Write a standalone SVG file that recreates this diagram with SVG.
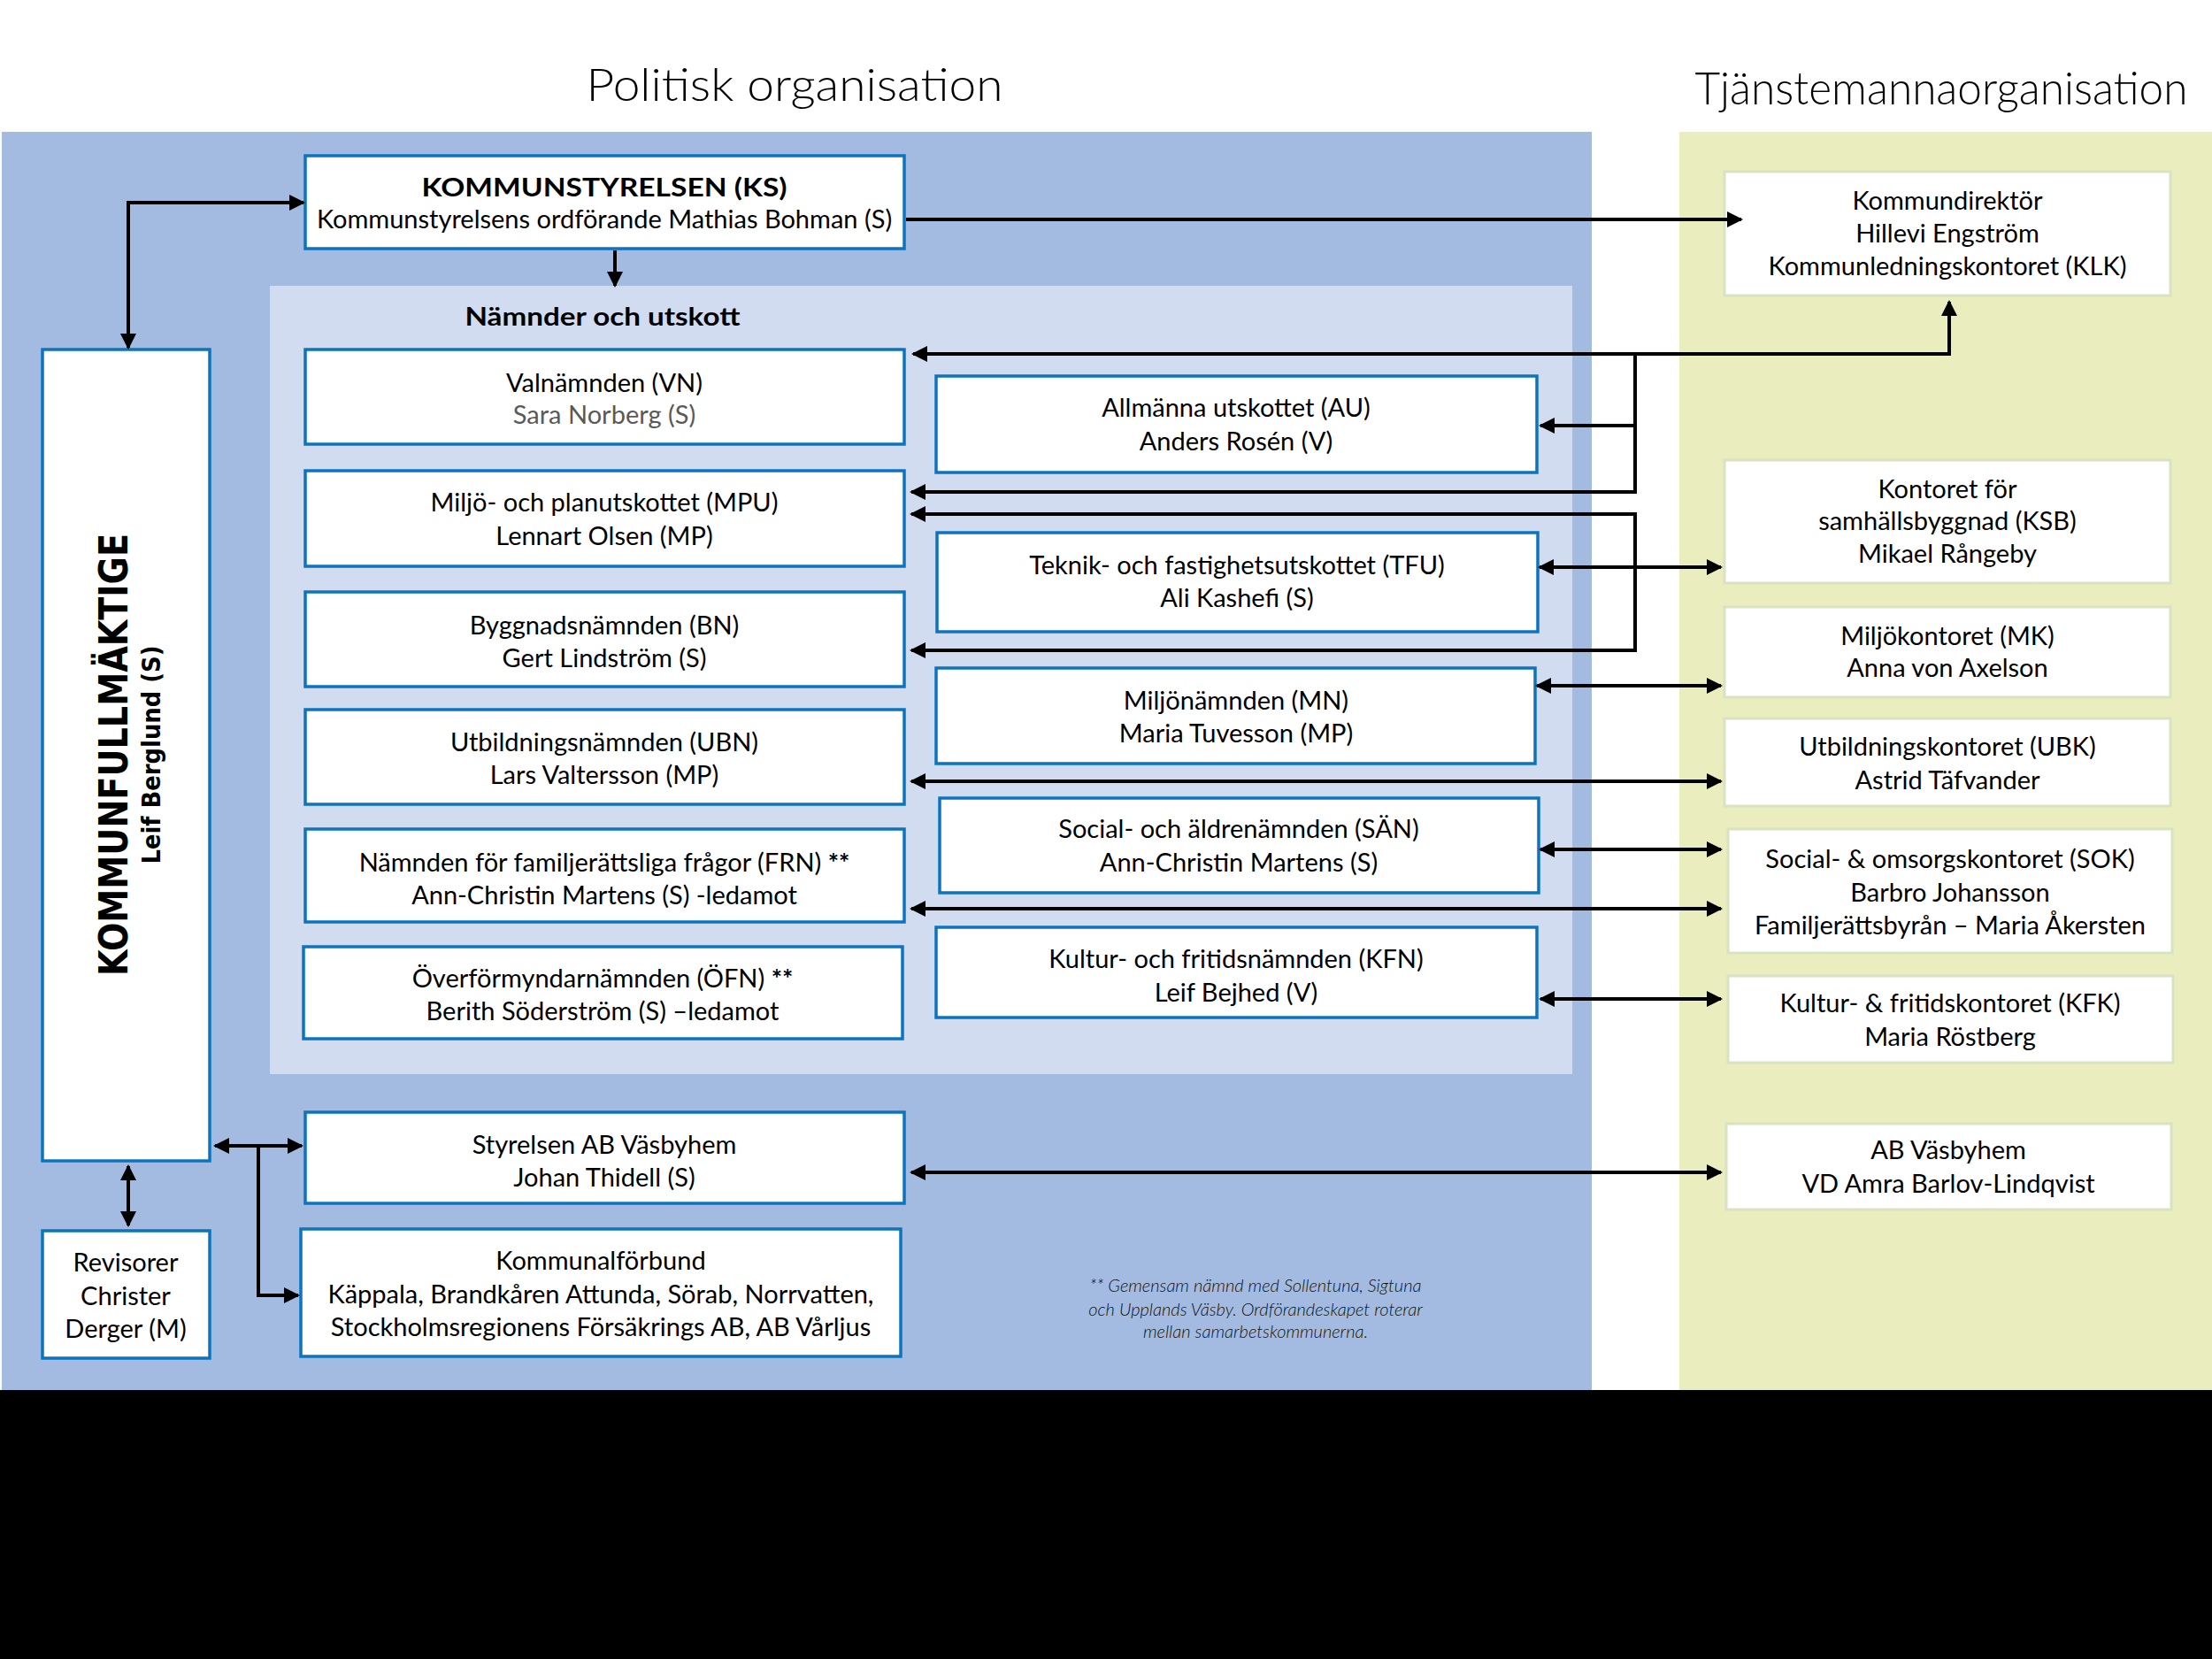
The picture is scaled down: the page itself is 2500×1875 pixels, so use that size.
<svg xmlns="http://www.w3.org/2000/svg" width="2500" height="1875" viewBox="0 0 2500 1875">
<defs>
<style>
.t{font-family:Lato,"Open Sans","Liberation Sans",sans-serif;font-size:29px;fill:#000;text-anchor:middle}
.b{font-weight:bold}
.h{font-family:Lato,"Open Sans","Liberation Sans",sans-serif;font-weight:300;font-size:52px;fill:#000;text-anchor:middle}
.kf{font-family:"DejaVu Sans",Verdana,sans-serif;font-weight:bold;fill:#000;text-anchor:middle}
.fn{font-family:Lato,"Open Sans","Liberation Sans",sans-serif;font-style:italic;font-weight:300;font-size:20px;fill:#111;text-anchor:middle}
.pb{fill:#fff;stroke:#0C74BE;stroke-width:3.5}
.gb{fill:#fff;stroke:#D8E3C2;stroke-width:3}
.c{fill:none;stroke:#000;stroke-width:4}
.a{marker-end:url(#ah)}
.aa{marker-start:url(#ah);marker-end:url(#ah)}
</style>
<marker id="ah" viewBox="0 0 18 18" refX="16" refY="9" markerWidth="18" markerHeight="18" markerUnits="userSpaceOnUse" orient="auto-start-reverse">
<path d="M0,0 L18,9 L0,18 z" fill="#000"/>
</marker>
</defs>
<rect x="0" y="0" width="2500" height="1875" fill="#fff"/>
<rect x="2" y="149" width="1797" height="1422" fill="#A3BBE0"/>
<rect x="1898" y="149" width="602" height="1422" fill="#EAEDBD"/>
<rect x="305" y="323" width="1472" height="891" fill="#D1DCF0"/>
<rect x="0" y="1571" width="2500" height="304" fill="#000"/>
<text class="h" x="898" y="114" font-size="56" textLength="471" lengthAdjust="spacingAndGlyphs">Politisk organisation</text>
<text class="h" x="2194" y="118" textLength="557" lengthAdjust="spacingAndGlyphs">Tjänstemannaorganisation</text>
<text class="t b" x="681" y="368" textLength="311" lengthAdjust="spacingAndGlyphs">Nämnder och utskott</text>
<text class="fn" x="1419" y="1460">** Gemensam nämnd med Sollentuna, Sigtuna</text>
<text class="fn" x="1419" y="1487">och Upplands Väsby. Ordförandeskapet roterar</text>
<text class="fn" x="1419" y="1512">mellan samarbetskommunerna.</text>
<g id="ks"><rect class="pb" x="345" y="176" width="677" height="105"/>
<text class="t b" x="683" y="222" textLength="413" lengthAdjust="spacingAndGlyphs">KOMMUNSTYRELSEN (KS)</text>
<text class="t" x="683" y="258">Kommunstyrelsens ordförande Mathias Bohman (S)</text></g>
<g id="kf"><rect class="pb" x="48" y="395" width="189" height="917"/>
<text class="kf" font-size="44" textLength="500" lengthAdjust="spacingAndGlyphs" transform="translate(144,853) rotate(-90)">KOMMUNFULLMÄKTIGE</text>
<text class="kf" font-size="28" textLength="247" lengthAdjust="spacingAndGlyphs" transform="translate(181,853) rotate(-90)">Leif Berglund (S)</text></g>
<g id="vn"><rect class="pb" x="345" y="395" width="677" height="107"/>
<text class="t" x="683" y="443">Valnämnden (VN)</text>
<text class="t" x="683" y="479" style="fill:#595959">Sara Norberg (S)</text></g>
<g id="mpu"><rect class="pb" x="345" y="532" width="677" height="108"/>
<text class="t" x="683" y="578">Miljö- och planutskottet (MPU)</text>
<text class="t" x="683" y="616">Lennart Olsen (MP)</text></g>
<g id="bn"><rect class="pb" x="345" y="669" width="677" height="107"/>
<text class="t" x="683" y="717">Byggnadsnämnden (BN)</text>
<text class="t" x="683" y="754">Gert Lindström (S)</text></g>
<g id="ubn"><rect class="pb" x="345" y="802" width="677" height="107"/>
<text class="t" x="683" y="849">Utbildningsnämnden (UBN)</text>
<text class="t" x="683" y="886">Lars Valtersson (MP)</text></g>
<g id="frn"><rect class="pb" x="345" y="937" width="677" height="105"/>
<text class="t" x="683" y="985">Nämnden för familjerättsliga frågor (FRN) <tspan class="b">**</tspan></text>
<text class="t" x="683" y="1022">Ann-Christin Martens (S) -ledamot</text></g>
<g id="ofn"><rect class="pb" x="343" y="1070" width="677" height="104"/>
<text class="t" x="681" y="1116">Överförmyndarnämnden (ÖFN) <tspan class="b">**</tspan></text>
<text class="t" x="681" y="1153">Berith Söderström (S) –ledamot</text></g>
<g id="au"><rect class="pb" x="1058" y="425" width="679" height="109"/>
<text class="t" x="1397" y="471">Allmänna utskottet (AU)</text>
<text class="t" x="1397" y="509">Anders Rosén (V)</text></g>
<g id="tfu"><rect class="pb" x="1059" y="602" width="679" height="112"/>
<text class="t" x="1398" y="649">Teknik- och fastighetsutskottet (TFU)</text>
<text class="t" x="1398" y="686">Ali Kashefi (S)</text></g>
<g id="mn"><rect class="pb" x="1058" y="755" width="677" height="108"/>
<text class="t" x="1397" y="802">Miljönämnden (MN)</text>
<text class="t" x="1397" y="839">Maria Tuvesson (MP)</text></g>
<g id="san"><rect class="pb" x="1062" y="902" width="677" height="107"/>
<text class="t" x="1400" y="947">Social- och äldrenämnden (SÄN)</text>
<text class="t" x="1400" y="985">Ann-Christin Martens (S)</text></g>
<g id="kfn"><rect class="pb" x="1058" y="1048" width="679" height="102"/>
<text class="t" x="1397" y="1094">Kultur- och fritidsnämnden (KFN)</text>
<text class="t" x="1397" y="1132">Leif Bejhed (V)</text></g>
<g id="styrelsen"><rect class="pb" x="345" y="1257" width="677" height="103"/>
<text class="t" x="683" y="1304">Styrelsen AB Väsbyhem</text>
<text class="t" x="683" y="1341">Johan Thidell (S)</text></g>
<g id="kommunalforbund"><rect class="pb" x="340" y="1389" width="678" height="144"/>
<text class="t" x="679" y="1435">Kommunalförbund</text>
<text class="t" x="679" y="1473">Käppala, Brandkåren Attunda, Sörab, Norrvatten,</text>
<text class="t" x="679" y="1510">Stockholmsregionens Försäkrings AB, AB Vårljus</text></g>
<g id="revisorer"><rect class="pb" x="48" y="1391" width="189" height="144"/>
<text class="t" x="142" y="1437">Revisorer</text>
<text class="t" x="142" y="1475">Christer</text>
<text class="t" x="142" y="1512">Derger (M)</text></g>
<g id="klk"><rect class="gb" x="1949" y="194" width="504" height="140"/>
<text class="t" x="2201" y="237">Kommundirektör</text>
<text class="t" x="2201" y="274">Hillevi Engström</text>
<text class="t" x="2201" y="311">Kommunledningskontoret (KLK)</text></g>
<g id="ksb"><rect class="gb" x="1949" y="520" width="504" height="139"/>
<text class="t" x="2201" y="563">Kontoret för</text>
<text class="t" x="2201" y="599">samhällsbyggnad (KSB)</text>
<text class="t" x="2201" y="636">Mikael Rångeby</text></g>
<g id="mk"><rect class="gb" x="1949" y="686" width="504" height="102"/>
<text class="t" x="2201" y="729">Miljökontoret (MK)</text>
<text class="t" x="2201" y="765">Anna von Axelson</text></g>
<g id="ubk"><rect class="gb" x="1949" y="812" width="504" height="99"/>
<text class="t" x="2201" y="854">Utbildningskontoret (UBK)</text>
<text class="t" x="2201" y="892">Astrid Täfvander</text></g>
<g id="sok"><rect class="gb" x="1953" y="937" width="502" height="140"/>
<text class="t" x="2204" y="981">Social- &amp; omsorgskontoret (SOK)</text>
<text class="t" x="2204" y="1019">Barbro Johansson</text>
<text class="t" x="2204" y="1056">Familjerättsbyrån – Maria Åkersten</text></g>
<g id="kfk"><rect class="gb" x="1953" y="1103" width="503" height="98"/>
<text class="t" x="2204" y="1144">Kultur- &amp; fritidskontoret (KFK)</text>
<text class="t" x="2204" y="1182">Maria Röstberg</text></g>
<g id="abv"><rect class="gb" x="1951" y="1270" width="503" height="97"/>
<text class="t" x="2202" y="1310">AB Väsbyhem</text>
<text class="t" x="2202" y="1348">VD Amra Barlov-Lindqvist</text></g>
<g id="connectors">
<path class="c aa" d="M145,393 V229 H343"/>
<path class="c a" d="M695,283 V323"/>
<path class="c a" d="M1024,248 H1968"/>
<path class="c aa" d="M1032,400 H2203 V341"/>
<path class="c a" d="M1848,400 V556 H1030"/>
<path class="c a" d="M1848,481 H1741"/>
<path class="c aa" d="M1030,581 H1848 V735 H1030"/>
<path class="c aa" d="M1740,641 H1945"/>
<path class="c aa" d="M1737,775 H1945"/>
<path class="c aa" d="M1030,883 H1945"/>
<path class="c aa" d="M1741,960 H1945"/>
<path class="c aa" d="M1030,1027 H1945"/>
<path class="c aa" d="M1741,1129 H1945"/>
<path class="c aa" d="M1030,1325 H1945"/>
<path class="c aa" d="M145,1318 V1385"/>
<path class="c aa" d="M243,1295 H341"/>
<path class="c a" d="M292,1295 V1464 H337"/>
</g>
</svg>
